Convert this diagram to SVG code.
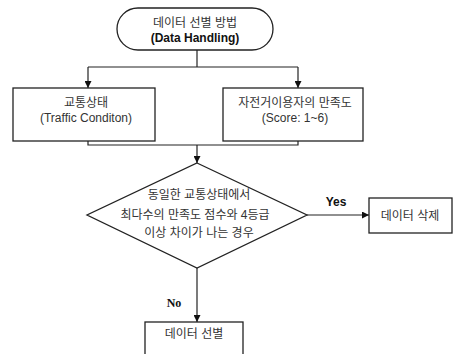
<svg xmlns="http://www.w3.org/2000/svg" width="457" height="354" viewBox="0 0 457 354">
<style>
.shape{fill:#fff;stroke:#222;stroke-width:1.3}
.ln{fill:none;stroke:#222;stroke-width:1.2}
.t{font-family:"Liberation Sans","Noto Sans CJK KR",sans-serif;font-size:12px;fill:#333;text-anchor:middle}
.b{font-weight:bold;fill:#111}
.s{font-family:"Liberation Serif","Noto Sans CJK KR",serif}
</style>
<defs>
<marker id="ah" viewBox="0 0 10 10" refX="10" refY="5" markerWidth="7" markerHeight="7" markerUnits="userSpaceOnUse" orient="auto">
<path d="M0,0 L10,5 L0,10 z" fill="#111"/>
</marker>
</defs>
<rect width="457" height="354" fill="#fff"/>
<g id="connectors">
<path class="ln" d="M197,50 V67"/>
<path class="ln" d="M88,67 H298"/>
<path class="ln" d="M88,67 V88" marker-end="url(#ah)"/>
<path class="ln" d="M298,67 V88" marker-end="url(#ah)"/>
<path class="ln" d="M88,141 V145 H298 V141"/>
<path class="ln" d="M197,145 V163" marker-end="url(#ah)"/>
<path class="ln" d="M307,215 H369" marker-end="url(#ah)"/>
<path class="ln" d="M197,268 V322" marker-end="url(#ah)"/>
<text class="t b" x="336" y="206">Yes</text>
<text class="t b s" x="174" y="307">No</text>
</g>
<g id="start">
<rect class="shape" x="117" y="8" width="156" height="42" rx="21" ry="21"/>
<text class="t" x="195" y="27">데이터 선별 방법</text>
<text class="t b" x="195" y="42">(Data Handling)</text>
</g>
<g id="traffic">
<rect class="shape" x="13" y="88" width="142" height="53"/>
<text class="t" x="86" y="107">교통상태</text>
<text class="t" x="86" y="122">(Traffic Conditon)</text>
</g>
<g id="score">
<rect class="shape" x="223" y="88" width="140" height="53"/>
<text class="t" x="295" y="107">자전거이용자의 만족도</text>
<text class="t" x="295" y="122">(Score: 1~6)</text>
</g>
<g id="decision">
<polygon class="shape" points="197,163 307,215 197,268 87,215"/>
<text class="t" x="199" y="199">동일한 교통상태에서</text>
<text class="t" x="195" y="219">최다수의 만족도 점수와 4등급</text>
<text class="t" x="199" y="237">이상 차이가 나는 경우</text>
</g>
<g id="delete">
<rect class="shape" x="369" y="198" width="83" height="35"/>
<text class="t" x="410" y="220">데이터 삭제</text>
</g>
<g id="select">
<rect class="shape" x="145" y="322" width="98" height="40"/>
<text class="t" x="194" y="338">데이터 선별</text>
</g>
</svg>
